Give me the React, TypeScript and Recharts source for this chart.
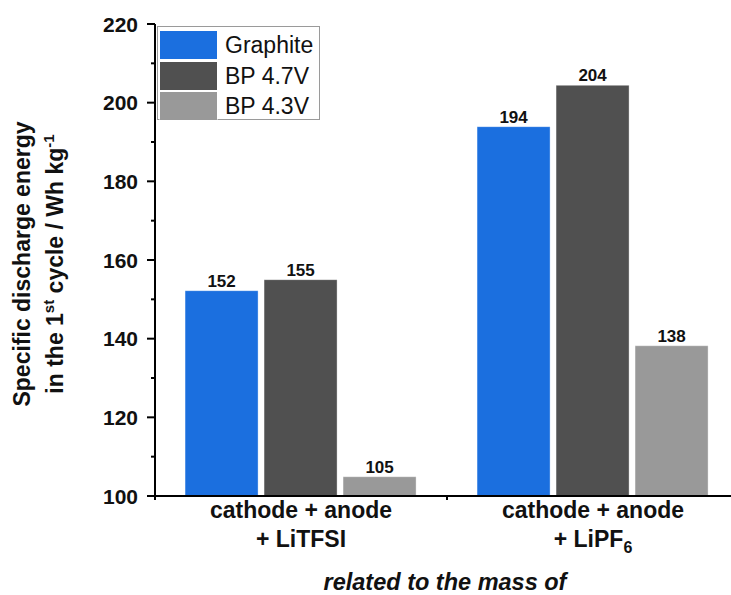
import React from 'react';
import { BarChart, Bar, XAxis, YAxis, LabelList } from 'recharts';

const categories = ['LiTFSI', 'LiPF6'];
const categoryLine1 = ['cathode + anode', 'cathode + anode'];
const categoryLine2 = ['+ LiTFSI', '+ LiPF'];
const categorySub = ['', '6'];

const seriesNames = ['Graphite', 'BP 4.7V', 'BP 4.3V'];
const seriesColors = ['#1b6fdf', '#505050', '#999999'];
const graphite = [152.2, 193.9];
const bp47 = [155.0, 204.4];
const bp43 = [104.9, 138.2];

const yTicks = [100, 110, 120, 130, 140, 150, 160, 170, 180, 190, 200, 210, 220];

const data = categories.map((name, i) => ({
  name,
  graphite: graphite[i],
  bp47: bp47[i],
  bp43: bp43[i],
}));

const FONT = "'Liberation Sans', Arial, sans-serif";

// left axis: labels on majors only, short ticks on minors
function LeftTick(props: any) {
  const { x, y, payload } = props;
  const v = payload.value;
  const major = v % 20 === 0;
  return (
    <g>
      <line x1={x - (major ? 8 : 4)} x2={x} y1={y} y2={y} stroke="#000" strokeWidth={2} />
      {major && (
        <text x={x - 17} y={y} dy="0.36em" textAnchor="end" fontFamily={FONT} fontWeight="bold" fontSize={21} fill="#111">
          {v}
        </text>
      )}
    </g>
  );
}

// right frame axis, ticks point inward
function RightTick(props: any) {
  const { x, y, payload } = props;
  const major = payload.value % 20 === 0;
  return <line x1={x - (major ? 8 : 4)} x2={x} y1={y} y2={y} stroke="#000" strokeWidth={2} />;
}

function BottomTick(props: any) {
  const { x, y, payload, index } = props;
  const half = payload?.offset ?? 146;
  return (
    <g>
      <line x1={x - half} x2={x - half} y1={y} y2={y + 4} stroke="#000" strokeWidth={2} />
      <line x1={x + half} x2={x + half} y1={y} y2={y + 4} stroke="#000" strokeWidth={2} />
      <text x={x} y={y + 22} textAnchor="middle" fontFamily={FONT} fontWeight="bold" fontSize={23} fill="#111">
        {categoryLine1[index]}
      </text>
      <text x={x} y={y + 51} textAnchor="middle" fontFamily={FONT} fontWeight="bold" fontSize={23} fill="#111">
        {categoryLine2[index]}
        {categorySub[index] && (
          <tspan fontSize={16} dy={6}>{categorySub[index]}</tspan>
        )}
      </text>
    </g>
  );
}

function TopTick(props: any) {
  const { x, y, payload } = props;
  const half = payload?.offset ?? 146;
  return (
    <g>
      <line x1={x - half} x2={x - half} y1={y} y2={y + 4} stroke="#000" strokeWidth={2} />
      <line x1={x + half} x2={x + half} y1={y} y2={y + 4} stroke="#000" strokeWidth={2} />
    </g>
  );
}

function YTitle(props: any) {
  const vb = props.viewBox || { x: 0, y: 24, width: 155, height: 472 };
  const cy = vb.y + vb.height / 2 + 4;
  return (
    <text transform={`translate(${vb.x + 30}, ${cy}) rotate(-90)`} textAnchor="middle" fontFamily={FONT} fontWeight="bold" fontSize={23} fill="#111">
      <tspan x={0} dy={0}>Specific discharge energy</tspan>
      <tspan x={0} dy={33}>in the 1</tspan>
      <tspan fontSize={15} dy={-9}>st</tspan>
      <tspan dy={9}> cycle / Wh kg</tspan>
      <tspan fontSize={15} dy={-9}>-1</tspan>
    </text>
  );
}

function XTitle(props: any) {
  const vb = props.viewBox || { x: 155, y: 496, width: 584, height: 99 };
  return (
    <text x={vb.x + vb.width / 2 - 2} y={590} textAnchor="middle" fontFamily={FONT} fontWeight="bold" fontStyle="italic" fontSize={23.5} fill="#111">
      related to the mass of
    </text>
  );
}

const valueLabel = { fontFamily: FONT, fontWeight: 'bold', fontSize: 17, fill: '#111' } as const;
const fmt = (v: any) => Math.round(Number(v));

export default function App() {
  return (
    <div style={{ position: 'fixed', left: 0, top: 0, width: 731, height: 595, overflow: 'hidden', background: '#fff' }}>
      <BarChart
        width={745}
        height={595}
        data={data}
        margin={{ top: 24, right: 6, bottom: 0, left: 0 }}
        barCategoryGap="10.3%"
        barGap={6}
      >
        <XAxis
          dataKey="name"
          height={99}
          tickSize={0}
          tickMargin={0}
          tickLine={false}
          axisLine={{ stroke: '#000', strokeWidth: 2 }}
          tick={<BottomTick />}
          interval={0}
          label={{ content: <XTitle /> }}
        />
        <XAxis
          xAxisId="top"
          dataKey="name"
          orientation="top"
          height={0}
          tickSize={0}
          tickMargin={0}
          tickLine={false}
          axisLine={{ stroke: '#000', strokeWidth: 2 }}
          tick={<TopTick />}
          interval={0}
        />
        <YAxis
          width={155}
          domain={[100, 220]}
          ticks={yTicks}
          allowDataOverflow
          interval={0}
          tickSize={0}
          tickMargin={0}
          tickLine={false}
          axisLine={{ stroke: '#000', strokeWidth: 2 }}
          tick={<LeftTick />}
          label={{ content: <YTitle /> }}
        />
        <YAxis
          yAxisId="right"
          orientation="right"
          mirror
          width={0}
          domain={[100, 220]}
          ticks={yTicks}
          allowDataOverflow
          interval={0}
          tickSize={0}
          tickMargin={0}
          tickLine={false}
          axisLine={{ stroke: '#000', strokeWidth: 2 }}
          tick={<RightTick />}
        />
        <Bar dataKey="graphite" name={seriesNames[0]} fill={seriesColors[0]} stroke="#ffffff" strokeOpacity={0.35} isAnimationActive={false}>
          <LabelList dataKey="graphite" position="top" offset={4} formatter={fmt} style={valueLabel} />
        </Bar>
        <Bar dataKey="bp47" name={seriesNames[1]} fill={seriesColors[1]} stroke="#ffffff" strokeOpacity={0.35} isAnimationActive={false}>
          <LabelList dataKey="bp47" position="top" offset={4} formatter={fmt} style={valueLabel} />
        </Bar>
        <Bar dataKey="bp43" name={seriesNames[2]} fill={seriesColors[2]} stroke="#ffffff" strokeOpacity={0.35} isAnimationActive={false}>
          <LabelList dataKey="bp43" position="top" offset={4} formatter={fmt} style={valueLabel} />
        </Bar>
      </BarChart>

      {/* legend box in the upper left corner of the plot */}
      <div
        style={{
          position: 'absolute',
          left: 157,
          top: 26,
          width: 163,
          height: 94,
          border: '1px solid #9a9a9a',
          background: '#fff',
          boxSizing: 'border-box',
          paddingTop: 3,
          fontFamily: FONT,
        }}
      >
        {seriesNames.map((n, i) => (
          <div key={n} style={{ display: 'flex', alignItems: 'center', height: 30, marginBottom: 0.5 }}>
            <div style={{ width: 57, height: 28, marginLeft: 2, background: seriesColors[i], outline: '1px solid rgba(255,255,255,0.5)' }} />
            <span style={{ marginLeft: 8, fontSize: 23, color: '#111', lineHeight: '28px' }}>{n}</span>
          </div>
        ))}
      </div>
    </div>
  );
}
